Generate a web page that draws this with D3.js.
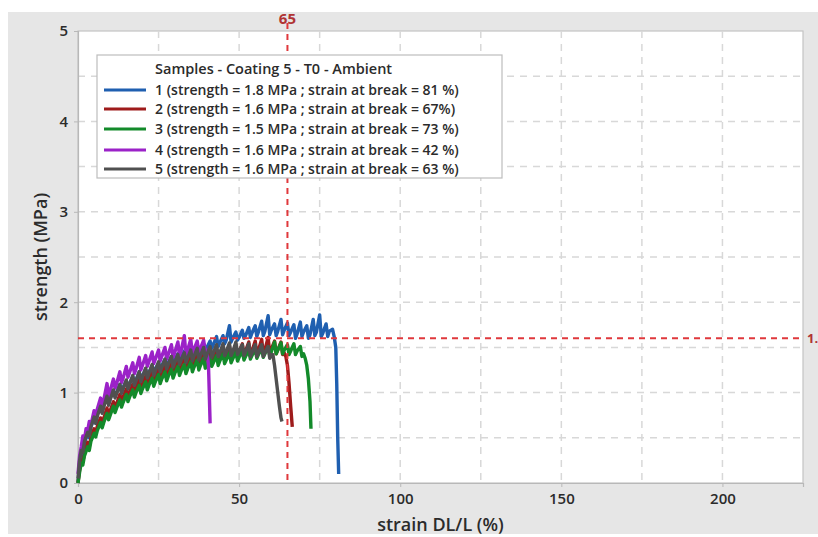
<!DOCTYPE html>
<html>
<head>
<meta charset="utf-8">
<script src="https://cdn.jsdelivr.net/npm/d3@7"></script>
<style>
  body { margin: 0; background: #fff; }
  text { font-family: "Open Sans", sans-serif; }
</style>
</head>
<body>
<div id="chart"></div>
<script>
// Samples: [strain %, strength MPa]
const sample1 = [[0,0],[0.5,0.22],[1,0.33],[1.5,0.3],[2,0.44],[3,0.55],[3.5,0.5],[4,0.62],[5,0.72],[5.5,0.66],[6,0.76],[7,0.85],[7.5,0.8],[8,0.86],
  [9,0.95],[9.5,0.88],[10,0.94],[11,1.02],[11.5,0.96],[12,1.0],[13,1.09],[13.5,1.01],[14,1.06],[15,1.13],[15.5,1.05],[16,1.1],
  [17,1.18],[17.5,1.1],[18,1.14],[19,1.23],[19.5,1.14],[20,1.19],[21,1.26],[21.5,1.19],[22,1.22],[23,1.3],[23.5,1.23],[24,1.26],
  [25,1.33],[25.5,1.26],[26,1.3],[27,1.37],[27.5,1.29],[28,1.33],[29,1.4],[29.5,1.33],[30,1.36],[31,1.43],[31.5,1.36],[32,1.39],
  [33,1.46],[33.5,1.39],[34,1.42],[35,1.49],[35.5,1.42],[36,1.45],[37,1.52],[37.5,1.45],[38,1.48],[39,1.54],[39.5,1.47],[40,1.5],
  [41,1.57],[41.5,1.49],[42,1.53],[43,1.62],[43.5,1.51],[44,1.55],[45,1.63],[45.5,1.54],[46,1.58],[47,1.74],[47.5,1.56],[48,1.6],
  [49,1.67],[49.5,1.58],[50,1.61],[51,1.69],[51.5,1.6],[52,1.63],[53,1.72],[53.5,1.61],[54,1.66],[55,1.74],[55.5,1.62],[56,1.67],
  [57,1.79],[57.5,1.63],[58,1.68],[59,1.85],[59.5,1.64],[60,1.69],[61,1.76],[61.5,1.63],[62,1.68],[63,1.81],[63.5,1.64],[64,1.69],
  [65,1.77],[65.5,1.63],[66,1.67],[67,1.75],[67.5,1.6],[68,1.65],[69,1.78],[69.5,1.62],[70,1.67],[71,1.74],[71.5,1.6],[72,1.64],
  [73,1.81],[73.5,1.63],[74,1.67],[75,1.86],[75.5,1.62],[76,1.66],[77,1.76],[77.5,1.62],[78,1.68],[79,1.7],[79.5,1.62],[80,1.5],
  [80.3,1.1],[80.6,0.5],[80.9,0.1]];
const sample2 = [[0,0],[0.5,0.15],[1,0.26],[1.5,0.24],[2,0.32],[3,0.45],[3.5,0.4],[4,0.5],[5,0.6],[5.5,0.55],[6,0.63],[7,0.72],[7.5,0.65],
  [8,0.72],[9,0.83],[9.5,0.74],[10,0.8],[11,0.9],[11.5,0.82],[12,0.88],[13,0.98],[13.5,0.89],[14,0.95],[15,1.04],[15.5,0.95],
  [16,1.0],[17,1.09],[17.5,1.0],[18,1.05],[19,1.14],[19.5,1.04],[20,1.1],[21,1.18],[21.5,1.09],[22,1.14],[23,1.22],[23.5,1.13],
  [24,1.18],[25,1.26],[25.5,1.17],[26,1.22],[27,1.3],[27.5,1.2],[28,1.25],[29,1.33],[29.5,1.23],[30,1.28],[31,1.36],[31.5,1.26],
  [32,1.31],[33,1.39],[33.5,1.29],[34,1.33],[35,1.41],[35.5,1.31],[36,1.35],[37,1.43],[37.5,1.33],[38,1.37],[39,1.45],[39.5,1.35],
  [40,1.39],[41,1.46],[41.5,1.36],[42,1.4],[43,1.48],[43.5,1.38],[44,1.42],[45,1.51],[45.5,1.39],[46,1.43],[47,1.51],[47.5,1.4],
  [48,1.44],[49,1.53],[49.5,1.41],[50,1.45],[51,1.54],[51.5,1.42],[52,1.46],[53,1.56],[53.5,1.42],[54,1.46],[55,1.57],[55.5,1.43],
  [56,1.47],[57,1.59],[57.5,1.43],[58,1.47],[59,1.61],[59.5,1.44],[60,1.48],[61,1.57],[61.5,1.43],[62,1.47],[63,1.56],[63.5,1.42],
  [64,1.44],[64.5,1.4],[65,1.3],[65.5,1.1],[66,0.85],[66.5,0.62]];
const sample3 = [[0,0],[0.5,0.12],[1,0.22],[1.5,0.2],[2,0.3],[3,0.4],[3.5,0.36],[4,0.46],[5,0.55],[5.5,0.51],[6,0.58],[7,0.67],
  [7.5,0.61],[8,0.67],[9,0.77],[9.5,0.7],[10,0.75],[11,0.85],[11.5,0.78],[12,0.83],[13,0.92],[13.5,0.84],[14,0.89],[15,0.98],
  [15.5,0.9],[16,0.95],[17,1.03],[17.5,0.95],[18,1.0],[19,1.08],[19.5,0.99],[20,1.04],[21,1.12],[21.5,1.03],[22,1.08],[23,1.16],
  [23.5,1.07],[24,1.12],[25,1.2],[25.5,1.1],[26,1.15],[27,1.23],[27.5,1.13],[28,1.18],[29,1.26],[29.5,1.16],[30,1.21],[31,1.29],
  [31.5,1.19],[32,1.24],[33,1.31],[33.5,1.21],[34,1.26],[35,1.34],[35.5,1.23],[36,1.28],[37,1.36],[37.5,1.25],[38,1.3],[39,1.38],
  [39.5,1.27],[40,1.31],[41,1.39],[41.5,1.29],[42,1.33],[43,1.41],[43.5,1.3],[44,1.35],[45,1.43],[45.5,1.32],[46,1.36],[47,1.44],
  [47.5,1.33],[48,1.37],[49,1.45],[49.5,1.35],[50,1.39],[51,1.46],[51.5,1.36],[52,1.4],[53,1.47],[53.5,1.37],[54,1.41],[55,1.48],
  [55.5,1.38],[56,1.42],[57,1.49],[57.5,1.39],[58,1.43],[59,1.51],[59.5,1.41],[60,1.45],[61,1.56],[61.5,1.43],[62,1.47],[63,1.55],
  [63.5,1.43],[64,1.47],[65,1.53],[65.5,1.42],[66,1.46],[67,1.54],[67.5,1.42],[68,1.46],[69,1.51],[69.5,1.4],[70,1.43],
  [70.5,1.38],[71,1.3],[71.5,1.15],[72,0.9],[72.3,0.6]];
const sample4 = [[0,0.1],[0.5,0.3],[1,0.4],[1.5,0.52],[2,0.48],[2.5,0.6],[3,0.58],[3.5,0.68],[4,0.64],[5,0.8],[5.5,0.74],[6,0.82],
  [7,0.94],[7.5,0.86],[8,0.92],[9,1.1],[9.5,0.96],[10,1.02],[11,1.15],[11.5,1.05],[12,1.1],[13,1.23],[13.5,1.11],[14,1.16],
  [15,1.29],[15.5,1.17],[16,1.22],[17,1.33],[17.5,1.21],[18,1.26],[19,1.39],[19.5,1.25],[20,1.3],[21,1.41],[21.5,1.29],[22,1.34],
  [23,1.45],[23.5,1.32],[24,1.37],[25,1.47],[25.5,1.35],[26,1.4],[27,1.5],[27.5,1.37],[28,1.42],[29,1.53],[29.5,1.39],[30,1.44],
  [31,1.56],[31.5,1.41],[32,1.46],[33,1.63],[33.5,1.42],[34,1.47],[35,1.59],[35.5,1.43],[36,1.48],[37,1.57],[37.5,1.44],[38,1.49],
  [39,1.58],[39.5,1.45],[40,1.47],[40.5,1.3],[41,0.66]];
const sample5 = [[0,0.05],[0.5,0.25],[1,0.36],[1.5,0.34],[2,0.46],[3,0.56],[3.5,0.52],[4,0.62],[5,0.73],[5.5,0.66],[6,0.74],
  [7,0.85],[7.5,0.77],[8,0.84],[9,0.96],[9.5,0.86],[10,0.92],[11,1.03],[11.5,0.94],[12,0.99],[13,1.09],[13.5,0.99],[14,1.04],
  [15,1.14],[15.5,1.04],[16,1.09],[17,1.19],[17.5,1.08],[18,1.13],[19,1.23],[19.5,1.12],[20,1.17],[21,1.27],[21.5,1.16],[22,1.21],
  [23,1.31],[23.5,1.19],[24,1.24],[25,1.34],[25.5,1.23],[26,1.28],[27,1.37],[27.5,1.26],[28,1.31],[29,1.4],[29.5,1.28],[30,1.33],
  [31,1.42],[31.5,1.31],[32,1.36],[33,1.44],[33.5,1.33],[34,1.38],[35,1.47],[35.5,1.35],[36,1.4],[37,1.49],[37.5,1.36],[38,1.41],
  [39,1.5],[39.5,1.37],[40,1.42],[41,1.51],[41.5,1.39],[42,1.44],[43,1.53],[43.5,1.4],[44,1.44],[45,1.54],[45.5,1.41],[46,1.45],
  [47,1.55],[47.5,1.41],[48,1.45],[49,1.56],[49.5,1.42],[50,1.46],[51,1.53],[51.5,1.41],[52,1.45],[53,1.54],[53.5,1.4],[54,1.44],
  [55,1.53],[55.5,1.4],[56,1.44],[57,1.53],[57.5,1.4],[58,1.44],[59,1.51],[59.5,1.38],[60,1.42],[60.5,1.42],[61,1.3],[61.5,1.15],
  [62,1.0],[62.5,0.85],[63,0.72],[63.3,0.68]];

const seriesData = [sample1, sample2, sample3, sample4, sample5];
const seriesColors = ["#1f5fb0", "#9e1b1b", "#138a2a", "#9b22c8", "#505050"];
const legendTitle = "Samples - Coating 5 - T0 - Ambient";
const legendLabels = [
  "1 (strength = 1.8 MPa ; strain at break = 81 %)",
  "2 (strength = 1.6 MPa ; strain at break = 67%)",
  "3 (strength = 1.5 MPa ; strain at break = 73  %)",
  "4 (strength = 1.6 MPa ; strain at break = 42 %)",
  "5 (strength = 1.6 MPa ; strain at break = 63 %)"
];
const xTicks = [0, 50, 100, 150, 200];
const yTicks = [0, 1, 2, 3, 4, 5];
const xGrid = [25, 50, 75, 100, 125, 150, 175, 200];
const yGrid = [0.5, 1, 1.5, 2, 2.5, 3, 3.5, 4, 4.5];
const refStrain = 65;
const refStrength = 1.6;

const W = 818, H = 537;
const margin = { top: 31, right: 15, bottom: 54, left: 78 };
const plotW = W - margin.left - margin.right;
const plotH = H - margin.top - margin.bottom;

const svg = d3.select("#chart").append("svg")
  .attr("width", W).attr("height", H);

svg.append("rect")
  .attr("x", 8).attr("y", 12).attr("width", W - 8).attr("height", 522)
  .attr("fill", "#e6e6e6");

const x = d3.scaleLinear().domain([0, 225]).range([0, plotW]);
const y = d3.scaleLinear().domain([0, 5]).range([plotH, 0]);

const g = svg.append("g")
  .attr("transform", `translate(${margin.left},${margin.top})`);

g.append("rect")
  .attr("width", plotW).attr("height", plotH)
  .attr("fill", "#fff").attr("stroke", "#c4c4c4").attr("stroke-width", 1.2);

// grid
g.selectAll(".gx").data(xGrid).join("line")
  .attr("x1", d => x(d)).attr("x2", d => x(d))
  .attr("y1", 0).attr("y2", plotH)
  .attr("stroke", "#d8d8d8").attr("stroke-width", 1.5)
  .attr("stroke-dasharray", "7,6");
g.selectAll(".gy").data(yGrid).join("line")
  .attr("y1", d => y(d)).attr("y2", d => y(d))
  .attr("x1", 0).attr("x2", plotW)
  .attr("stroke", "#d8d8d8").attr("stroke-width", 1.5)
  .attr("stroke-dasharray", "7,6");

// axes
const xAxis = g.append("g")
  .attr("transform", `translate(0,${plotH})`)
  .call(d3.axisBottom(x).tickValues(xTicks).tickFormat(d3.format("d")).tickSize(4).tickPadding(6));
const yAxis = g.append("g")
  .call(d3.axisLeft(y).tickValues(yTicks).tickFormat(d3.format("d")).tickSize(4).tickPadding(6));
[xAxis, yAxis].forEach(a => {
  a.select(".domain").attr("stroke", "#b8b8b8").attr("stroke-width", 1.2);
  a.selectAll(".tick line").attr("stroke", "#b8b8b8");
  a.selectAll("text")
    .style("font-family", "'Open Sans', sans-serif")
    .style("font-size", "15px").style("font-weight", 600)
    .attr("fill", "#2b2b2b");
});

// curves
const line = d3.line().x(d => x(d[0])).y(d => y(d[1]));
g.selectAll(".curve").data(seriesData).join("path")
  .attr("d", line)
  .attr("fill", "none")
  .attr("stroke", (d, i) => seriesColors[i])
  .attr("stroke-width", 3.4)
  .attr("stroke-linejoin", "round");

// reference lines
g.append("line")
  .attr("x1", x(refStrain)).attr("x2", x(refStrain))
  .attr("y1", -8).attr("y2", plotH)
  .attr("stroke", "#e0383c").attr("stroke-width", 2)
  .attr("stroke-dasharray", "6,5");
g.append("line")
  .attr("x1", 0).attr("x2", plotW)
  .attr("y1", y(refStrength)).attr("y2", y(refStrength))
  .attr("stroke", "#e0383c").attr("stroke-width", 2)
  .attr("stroke-dasharray", "6,5");

svg.append("text")
  .attr("x", margin.left + x(refStrain)).attr("y", 24)
  .attr("text-anchor", "middle")
  .style("font-size", "15px").style("font-weight", 700)
  .attr("fill", "#b03434")
  .text(refStrain);
svg.append("text")
  .attr("x", margin.left + plotW + 4).attr("y", margin.top + y(refStrength) + 5)
  .style("font-size", "13px").style("font-weight", 700)
  .attr("fill", "#b03434")
  .text("1.");

// axis titles
svg.append("text")
  .attr("transform", `translate(47,${margin.top + plotH / 2}) rotate(-90)`)
  .attr("text-anchor", "middle")
  .style("font-size", "18px").style("font-weight", 600)
  .attr("fill", "#2b2b2b")
  .text("strength (MPa)");
svg.append("text")
  .attr("x", margin.left + plotW / 2).attr("y", 531)
  .attr("text-anchor", "middle")
  .style("font-size", "18px").style("font-weight", 600)
  .attr("fill", "#2b2b2b")
  .text("strain DL/L (%)");

// legend
const lg = svg.append("g").attr("transform", "translate(97,55)");
lg.append("rect")
  .attr("width", 405).attr("height", 123)
  .attr("fill", "#fff").attr("stroke", "#bdbdbd").attr("stroke-width", 1.2);
lg.append("text")
  .attr("x", 58).attr("y", 19)
  .style("font-size", "14.5px").style("font-weight", 600)
  .attr("fill", "#2b2b2b")
  .text(legendTitle);
const rowY = [35, 54, 74, 95, 114];
const items = lg.selectAll(".item").data(legendLabels).join("g")
  .attr("transform", (d, i) => `translate(0,${rowY[i]})`);
items.append("line")
  .attr("x1", 7).attr("x2", 49)
  .attr("stroke", (d, i) => seriesColors[i]).attr("stroke-width", 3);
items.append("text")
  .attr("x", 58).attr("y", 5)
  .style("font-size", "14px").style("font-weight", 600)
  .attr("fill", "#2b2b2b")
  .text(d => d);
</script>
</body>
</html>
